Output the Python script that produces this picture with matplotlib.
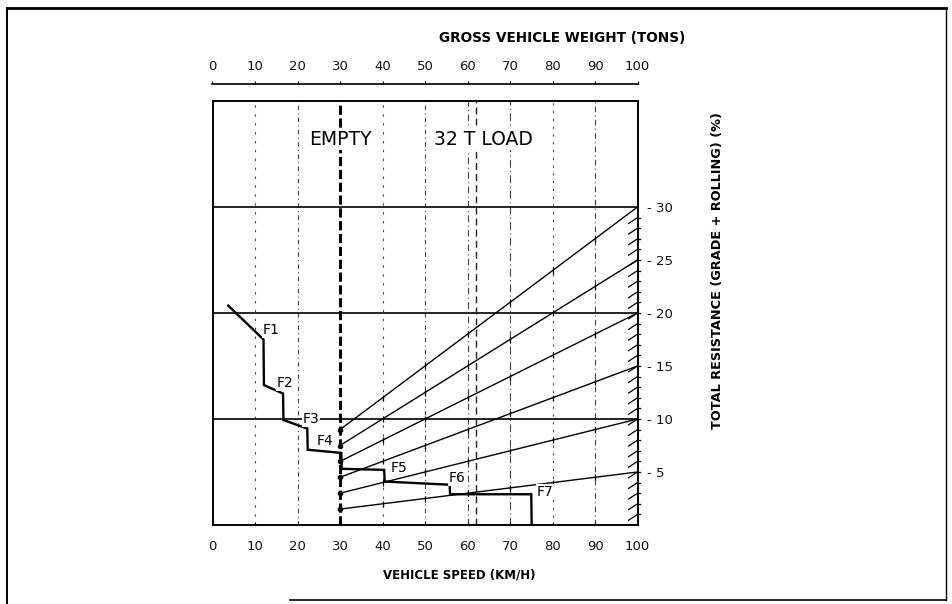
import matplotlib
matplotlib.use("Agg")
import matplotlib.pyplot as plt
from matplotlib.lines import Line2D

# ---------------- data ----------------
speed_ticks = [0, 10, 20, 30, 40, 50, 60, 70, 80, 90, 100]
weight_ticks = [0, 10, 20, 30, 40, 50, 60, 70, 80, 90, 100]
resistance_ticks = [5, 10, 15, 20, 25, 30]
resistance_labels = ["- 5", "- 10", "- 15", "- 20", "- 25", "- 30"]

# rimpull curve (gears F1..F7)
rp_speed = [3.7, 12.0, 12.1, 16.6, 16.7, 22.3, 22.4, 30.3, 30.4, 40.4, 40.5, 55.8, 55.9, 75.0, 75.1]
rp_value = [20.7, 17.5, 13.2, 12.4, 9.9, 9.1, 7.1, 6.8, 5.3, 5.2, 4.1, 3.8, 2.9, 2.9, 0.0]

gear_labels = ["F1", "F2", "F3", "F4", "F5", "F6", "F7"]
gear_x = [11.9, 15.2, 21.3, 24.5, 41.8, 55.5, 76.2]
gear_y = [18.4, 13.4, 10.0, 7.9, 5.4, 4.4, 3.1]

# total resistance lines (gross weight axis 30..100)
grade_x = [30, 40, 50, 60, 70, 80, 90, 100]
grade_5 = [1.5, 2.0, 2.5, 3.0, 3.5, 4.0, 4.5, 5.0]
grade_10 = [3.0, 4.0, 5.0, 6.0, 7.0, 8.0, 9.0, 10.0]
grade_15 = [4.5, 6.0, 7.5, 9.0, 10.5, 12.0, 13.5, 15.0]
grade_20 = [6.0, 8.0, 10.0, 12.0, 14.0, 16.0, 18.0, 20.0]
grade_25 = [7.5, 10.0, 12.5, 15.0, 17.5, 20.0, 22.5, 25.0]
grade_30 = [9.0, 12.0, 15.0, 18.0, 21.0, 24.0, 27.0, 30.0]
grade_lines = [grade_5, grade_10, grade_15, grade_20, grade_25, grade_30]

empty_weight = 30
loaded_weight = 62

# ---------------- figure ----------------
plt.rcParams['font.family'] = ['DejaVu Sans']
fig = plt.figure(figsize=(9.52, 6.04), dpi=100)
fig.patch.set_facecolor("white")

W, H = 952, 604
ax = fig.add_axes([212.5 / W, (H - 525) / H, 425 / W, 424 / H])
ax.set_xlim(0, 100)
ax.set_ylim(0, 40)

for s in ax.spines.values():
    s.set_linewidth(1.4)
    s.set_color("black")

# vertical faint grid lines
styles = {10: (0, (2, 6)), 20: (0, (4, 3, 1, 3)), 40: (0, (2, 6)), 50: (0, (4, 3, 1, 3)),
          60: (0, (6, 3, 1, 3)), 70: (0, (7, 3, 1, 3)), 80: (0, (2, 5)), 90: (0, (5, 3, 1, 3))}
for xv, ls in styles.items():
    ax.axvline(xv, color="#444444", lw=0.8, ls=ls, zorder=1)

# horizontal solid lines
for yv in [10, 20, 30]:
    ax.axhline(yv, color="black", lw=1.2, zorder=2)

# empty / loaded weight lines
ax.axvline(empty_weight, color="black", lw=2.2, ls=(0, (3, 1.2)), zorder=3)
ax.axvline(loaded_weight, color="#222222", lw=1.0, ls=(0, (5, 3)), zorder=2)

# resistance lines
for g in grade_lines:
    ax.plot(grade_x, g, color="black", lw=1.0, zorder=3)
    ax.plot(grade_x[1:-1], g[1:-1], ls="none", marker="|", ms=4, mew=0.9, color="black", zorder=3)
    ax.plot(grade_x[:1], g[:1], ls="none", marker="o", ms=3, color="black", zorder=3)

# rimpull curve
ax.plot(rp_speed, rp_value, color="black", lw=1.7, zorder=4, solid_joinstyle="miter")

# gear labels
for lab, gx, gy in zip(gear_labels, gear_x, gear_y):
    ax.text(gx, gy, lab, fontsize=10, ha="left", va="center", zorder=5,
            bbox=dict(facecolor="white", edgecolor="none", pad=0.5))

# EMPTY / LOAD labels
ax.text(empty_weight, 36.4, "EMPTY", fontsize=13.5, ha="center", va="center", zorder=5,
        bbox=dict(facecolor="white", edgecolor="none", pad=1.0))
ax.text(63.8, 36.4, "32 T LOAD", fontsize=13.5, ha="center", va="center", zorder=5,
        bbox=dict(facecolor="white", edgecolor="none", pad=1.0))

# hatch marks along the right edge
for k in range(1, 30):
    ax.plot([97.9, 100], [k - 0.55, k], color="black", lw=0.9, zorder=3, clip_on=False)
    ax.plot([100, 100.7], [k, k], color="black", lw=0.9, zorder=3, clip_on=False)

# bottom axis
ax.set_xticks(speed_ticks)
ax.set_xticklabels([str(v) for v in speed_ticks], fontsize=9.5, color="#111111")
ax.tick_params(axis="x", direction="in", length=2, pad=11)

# right axis
ax.yaxis.tick_right()
ax.set_yticks(resistance_ticks)
ax.set_yticklabels(resistance_labels, fontsize=9.5, color="#111111")
ax.tick_params(axis="y", length=0, pad=7)

# top axis (gross vehicle weight)
sec = ax.secondary_xaxis(1 + 17 / 424)
sec.set_xticks(weight_ticks)
sec.set_xticklabels([str(v) for v in weight_ticks], fontsize=9.5, color="#111111")
sec.tick_params(axis="x", direction="out", length=2, pad=6)
sec.spines["top"].set_linewidth(1.2)

# axis titles
fig.text(562 / W, 1 - 38 / H, "GROSS VEHICLE WEIGHT (TONS)", fontsize=9.8, fontweight="bold",
         ha="center", va="center")
fig.text(459 / W, 1 - 575 / H, "VEHICLE SPEED (KM/H)", fontsize=8.5, fontweight="bold",
         ha="center", va="center")
fig.text(717 / W, 1 - 271 / H, "TOTAL RESISTANCE (GRADE + ROLLING) (%)", fontsize=9.3,
         fontweight="bold", ha="center", va="center", rotation=90)

# outer frame
def fl(x0, y0, x1, y1, lw):
    fig.add_artist(Line2D([x0 / W, x1 / W], [1 - y0 / H, 1 - y1 / H], color="black", lw=lw,
                          transform=fig.transFigure))

fl(7, 8, 946, 8, 2.0)
fl(7, 8, 7, 604, 1.4)
fl(946, 8, 946, 600, 1.0)
fl(290, 600, 946, 600, 1.2)

fig.savefig("out.png", dpi=100, facecolor="white")
